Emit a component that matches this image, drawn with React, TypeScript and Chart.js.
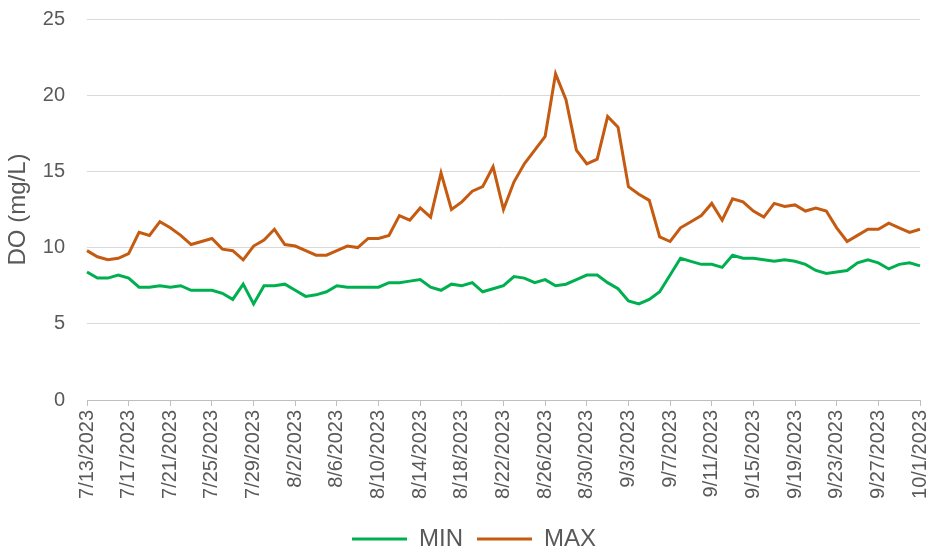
import React, { useEffect, useRef } from "react";
import { Chart, registerables } from "chart.js";

Chart.register(...registerables);

const categories: string[] = [
  "7/13/2023", "7/14/2023", "7/15/2023", "7/16/2023", "7/17/2023", "7/18/2023", "7/19/2023", "7/20/2023",
  "7/21/2023", "7/22/2023", "7/23/2023", "7/24/2023", "7/25/2023", "7/26/2023", "7/27/2023", "7/28/2023",
  "7/29/2023", "7/30/2023", "7/31/2023", "8/1/2023", "8/2/2023", "8/3/2023", "8/4/2023", "8/5/2023",
  "8/6/2023", "8/7/2023", "8/8/2023", "8/9/2023", "8/10/2023", "8/11/2023", "8/12/2023", "8/13/2023",
  "8/14/2023", "8/15/2023", "8/16/2023", "8/17/2023", "8/18/2023", "8/19/2023", "8/20/2023", "8/21/2023",
  "8/22/2023", "8/23/2023", "8/24/2023", "8/25/2023", "8/26/2023", "8/27/2023", "8/28/2023", "8/29/2023",
  "8/30/2023", "8/31/2023", "9/1/2023", "9/2/2023", "9/3/2023", "9/4/2023", "9/5/2023", "9/6/2023",
  "9/7/2023", "9/8/2023", "9/9/2023", "9/10/2023", "9/11/2023", "9/12/2023", "9/13/2023", "9/14/2023",
  "9/15/2023", "9/16/2023", "9/17/2023", "9/18/2023", "9/19/2023", "9/20/2023", "9/21/2023", "9/22/2023",
  "9/23/2023", "9/24/2023", "9/25/2023", "9/26/2023", "9/27/2023", "9/28/2023", "9/29/2023", "9/30/2023",
  "10/1/2023",
];

const minValues: number[] = [
  8.4, 8.0, 8.0, 8.2, 8.0, 7.4, 7.4, 7.5, 7.4, 7.5,
  7.2, 7.2, 7.2, 7.0, 6.6, 7.6, 6.3, 7.5, 7.5, 7.6,
  7.2, 6.8, 6.9, 7.1, 7.5, 7.4, 7.4, 7.4, 7.4, 7.7,
  7.7, 7.8, 7.9, 7.4, 7.2, 7.6, 7.5, 7.7, 7.1, 7.3,
  7.5, 8.1, 8.0, 7.7, 7.9, 7.5, 7.6, 7.9, 8.2, 8.2,
  7.7, 7.3, 6.5, 6.3, 6.6, 7.1, 8.2, 9.3, 9.1, 8.9,
  8.9, 8.7, 9.5, 9.3, 9.3, 9.2, 9.1, 9.2, 9.1, 8.9,
  8.5, 8.3, 8.4, 8.5, 9.0, 9.2, 9.0, 8.6, 8.9, 9.0,
  8.8,
];

const maxValues: number[] = [
  9.8, 9.4, 9.2, 9.3, 9.6, 11.0, 10.8, 11.7, 11.3, 10.8,
  10.2, 10.4, 10.6, 9.9, 9.8, 9.2, 10.1, 10.5, 11.2, 10.2,
  10.1, 9.8, 9.5, 9.5, 9.8, 10.1, 10.0, 10.6, 10.6, 10.8,
  12.1, 11.8, 12.6, 12.0, 14.9, 12.5, 13.0, 13.7, 14.0, 15.3,
  12.5, 14.3, 15.5, 16.4, 17.3, 21.4, 19.7, 16.4, 15.5, 15.8,
  18.6, 17.9, 14.0, 13.5, 13.1, 10.7, 10.4, 11.3, 11.7, 12.1,
  12.9, 11.8, 13.2, 13.0, 12.4, 12.0, 12.9, 12.7, 12.8, 12.4,
  12.6, 12.4, 11.3, 10.4, 10.8, 11.2, 11.2, 11.6, 11.3, 11.0,
  11.2,
];

const seriesNames: string[] = ["MIN", "MAX"];
const yTicks: number[] = [0, 5, 10, 15, 20, 25];

const TEXT = "#595959";
const FONT = "'Liberation Sans', Arial, sans-serif";

const legendShift = {
  id: "legendShift",
  afterLayout(chart: any) {
    const lg = chart.legend;
    if (lg) {
      lg.left += 14;
      lg.right += 14;
    }
  },
};

export default function App() {
  const ref = useRef<HTMLCanvasElement | null>(null);

  useEffect(() => {
    document.body.style.margin = "0";
    if (!ref.current) return;
    const chart = new Chart(ref.current, {
      type: "line",
      data: {
        labels: categories,
        datasets: [
          {
            label: seriesNames[0],
            data: minValues,
            borderColor: "#00B050",
            backgroundColor: "#00B050",
            borderWidth: 3,
            pointRadius: 0,
            tension: 0,
          },
          {
            label: seriesNames[1],
            data: maxValues,
            borderColor: "#C55A11",
            backgroundColor: "#C55A11",
            borderWidth: 3,
            pointRadius: 0,
            tension: 0,
          },
        ],
      },
      plugins: [legendShift],
      options: {
        animation: false,
        responsive: false,
        maintainAspectRatio: false,
        layout: { padding: { left: 0, right: 7, top: 19, bottom: -11 } },
        plugins: {
          tooltip: { enabled: false },
          legend: {
            position: "bottom",
            labels: {
              usePointStyle: true,
              pointStyle: "line",
              pointStyleWidth: 55,
              padding: 14,
              color: TEXT,
              font: { family: FONT, size: 24 },
            },
          },
        },
        scales: {
          x: {
            type: "category",
            offset: false,
            afterFit: (scale: any) => {
              scale.height = 113;
              scale.paddingRight = 0;
              scale.paddingLeft = 0;
              scale.paddingTop = 0;
              scale.paddingBottom = 0;
            },
            border: { display: true, color: "#BFBFBF", width: 1 },
            grid: {
              offset: false,
              drawOnChartArea: false,
              drawTicks: true,
              tickLength: 6,
              color: (ctx: any) => (ctx.index % 4 === 0 ? "#BFBFBF" : "rgba(0,0,0,0)"),
            },
            ticks: {
              autoSkip: false,
              minRotation: 90,
              maxRotation: 90,
              padding: 4,
              color: TEXT,
              font: { family: FONT, size: 20 },
              callback: (_v: any, i: number) => (i % 4 === 0 ? categories[i] : ""),
            },
          },
          y: {
            min: yTicks[0],
            max: yTicks[yTicks.length - 1],
            afterFit: (scale: any) => {
              scale.width = 87;
              scale.paddingTop = 0;
              scale.paddingBottom = 0;
            },
            border: { display: false },
            grid: { color: "#D9D9D9", lineWidth: 1, drawTicks: false },
            ticks: {
              stepSize: 5,
              padding: 22,
              color: TEXT,
              font: { family: FONT, size: 20 },
            },
            title: {
              display: true,
              text: "DO (mg/L)",
              color: TEXT,
              font: { family: FONT, size: 24 },
              padding: { top: 4, bottom: 0 },
            },
          },
        },
      },
    });
    return () => chart.destroy();
  }, []);

  return (
    <div style={{ width: 927, height: 550, background: "#fff" }}>
      <canvas ref={ref} width={927} height={550} />
    </div>
  );
}
